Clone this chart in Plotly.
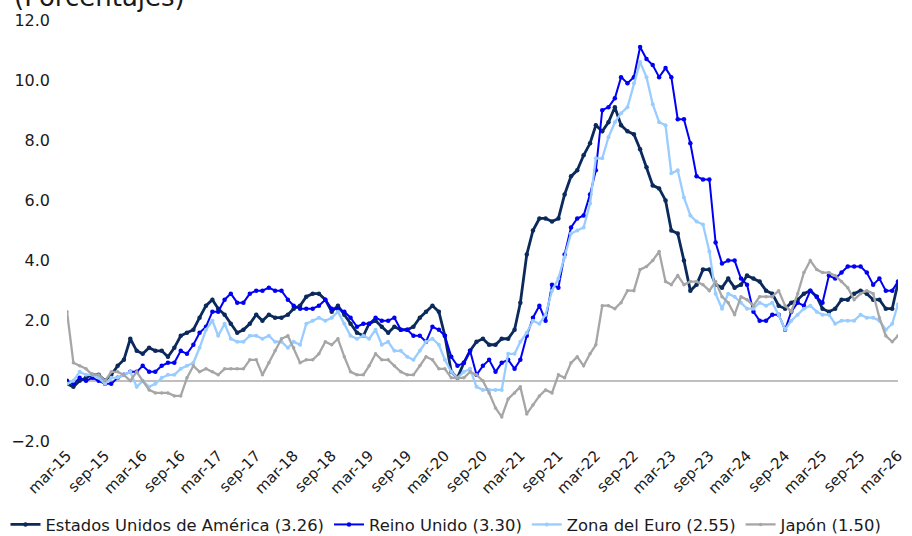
import pandas as pd
import plotly.graph_objects as go

# Monthly dates: mar-15 .. mar-26
dates = pd.date_range("2015-03-01", "2026-03-01", freq="MS")

usa = [
    -0.1, -0.2, 0.0, 0.1, 0.2, 0.2, 0.0, 0.2, 0.5, 0.7,
    1.4, 1.0, 0.9, 1.1, 1.0, 1.0, 0.8, 1.1, 1.5, 1.6, 1.7, 2.1,
    2.5, 2.7, 2.4, 2.2, 1.9, 1.6, 1.7, 1.9, 2.2, 2.0, 2.2, 2.1,
    2.1, 2.2, 2.4, 2.5, 2.8, 2.9, 2.9, 2.7, 2.3, 2.5, 2.2, 1.9,
    1.6, 1.5, 1.9, 2.0, 1.8, 1.6, 1.8, 1.7, 1.7, 1.8, 2.1, 2.3,
    2.5, 2.3, 1.5, 0.3, 0.1, 0.6, 1.0, 1.3, 1.4, 1.2, 1.2, 1.4,
    1.4, 1.7, 2.6, 4.2, 5.0, 5.4, 5.4, 5.3, 5.4, 6.2, 6.8, 7.0,
    7.5, 7.9, 8.5, 8.3, 8.6, 9.1, 8.5, 8.3, 8.2, 7.7, 7.1, 6.5,
    6.4, 6.0, 5.0, 4.9, 4.0, 3.0, 3.2, 3.7, 3.7, 3.2, 3.1, 3.4,
    3.1, 3.2, 3.5, 3.4, 3.3, 3.0, 2.9, 2.5, 2.4, 2.6, 2.7, 2.9,
    3.0, 2.8, 2.4, 2.3, 2.4, 2.7, 2.7, 2.9, 3.0, 2.9, 2.7, 2.7,
    2.4, 2.4, 3.26,
]

uk = [
    0.0, -0.1, 0.1, 0.0, 0.1, 0.0, -0.1, -0.1, 0.1, 0.2,
    0.3, 0.3, 0.5, 0.3, 0.3, 0.5, 0.6, 0.6, 1.0, 0.9, 1.2, 1.6,
    1.8, 2.3, 2.3, 2.7, 2.9, 2.6, 2.6, 2.9, 3.0, 3.0, 3.1, 3.0,
    3.0, 2.7, 2.5, 2.4, 2.4, 2.4, 2.5, 2.7, 2.4, 2.4, 2.3, 2.1,
    1.8, 1.9, 1.9, 2.1, 2.0, 2.0, 2.1, 1.7, 1.7, 1.5, 1.5, 1.3,
    1.8, 1.7, 1.5, 0.8, 0.5, 0.6, 1.0, 0.2, 0.5, 0.7, 0.3, 0.6,
    0.7, 0.4, 0.7, 1.5, 2.1, 2.5, 2.0, 3.2, 3.1, 4.2, 5.1, 5.4,
    5.5, 6.2, 7.0, 9.0, 9.1, 9.4, 10.1, 9.9, 10.1, 11.1, 10.7, 10.5,
    10.1, 10.4, 10.1, 8.7, 8.7, 7.9, 6.8, 6.7, 6.7, 4.6, 3.9, 4.0,
    4.0, 3.4, 3.2, 2.3, 2.0, 2.0, 2.2, 2.2, 1.7, 2.3, 2.6, 2.5,
    3.0, 2.8, 2.6, 3.5, 3.4, 3.6, 3.8, 3.8, 3.8, 3.6, 3.2, 3.4,
    3.0, 3.0, 3.30,
]

euro = [
    -0.1, 0.0, 0.3, 0.2, 0.2, 0.1, -0.1, 0.1, 0.1, 0.2,
    0.3, -0.2, 0.0, -0.2, -0.1, 0.1, 0.2, 0.2, 0.4, 0.5, 0.6, 1.1,
    1.7, 2.0, 1.5, 1.9, 1.4, 1.3, 1.3, 1.5, 1.5, 1.4, 1.5, 1.3,
    1.3, 1.1, 1.3, 1.2, 1.9, 2.0, 2.1, 2.0, 2.1, 2.3, 1.9, 1.5,
    1.4, 1.5, 1.4, 1.7, 1.2, 1.3, 1.0, 1.0, 0.8, 0.7, 1.0, 1.3,
    1.4, 1.2, 0.7, 0.3, 0.1, 0.3, 0.4, -0.2, -0.3, -0.3, -0.3, -0.3,
    0.9, 0.9, 1.3, 1.6, 2.0, 1.9, 2.2, 3.0, 3.4, 4.1, 4.9, 5.0,
    5.1, 5.9, 7.4, 7.4, 8.1, 8.6, 8.9, 9.1, 9.9, 10.6, 10.1, 9.2,
    8.6, 8.5, 6.9, 7.0, 6.1, 5.5, 5.3, 5.2, 4.3, 2.9, 2.4, 2.9,
    2.8, 2.6, 2.4, 2.4, 2.6, 2.5, 2.6, 2.2, 1.7, 2.0, 2.2, 2.4,
    2.5, 2.3, 2.2, 2.2, 1.9, 2.0, 2.0, 2.0, 2.2, 2.1, 2.1, 2.0,
    1.7, 1.9, 2.55,
]

japan = [
    2.3, 0.6, 0.5, 0.4, 0.2, 0.2, 0.0, 0.3, 0.3, 0.2,
    0.0, 0.3, 0.0, -0.3, -0.4, -0.4, -0.4, -0.5, -0.5, 0.1, 0.5, 0.3,
    0.4, 0.3, 0.2, 0.4, 0.4, 0.4, 0.4, 0.7, 0.7, 0.2, 0.6, 1.0,
    1.4, 1.5, 1.1, 0.6, 0.7, 0.7, 0.9, 1.3, 1.2, 1.4, 0.8, 0.3,
    0.2, 0.2, 0.5, 0.9, 0.7, 0.7, 0.5, 0.3, 0.2, 0.2, 0.5, 0.8,
    0.7, 0.4, 0.4, 0.1, 0.1, 0.1, 0.3, 0.2, 0.0, -0.4, -0.9, -1.2,
    -0.6, -0.4, -0.2, -1.1, -0.8, -0.5, -0.3, -0.4, 0.2, 0.1, 0.6, 0.8,
    0.5, 0.9, 1.2, 2.5, 2.5, 2.4, 2.6, 3.0, 3.0, 3.7, 3.8, 4.0,
    4.3, 3.3, 3.2, 3.5, 3.2, 3.3, 3.3, 3.2, 3.0, 3.3, 2.8, 2.6,
    2.2, 2.8, 2.7, 2.5, 2.8, 2.8, 2.8, 3.0, 2.5, 2.3, 2.9, 3.6,
    4.0, 3.7, 3.6, 3.6, 3.5, 3.3, 3.1, 2.7, 2.9, 3.0, 2.9, 2.1,
    1.5, 1.3, 1.50,
]

series_names = [
    "Estados Unidos de América (3.26)",
    "Reino Unido (3.30)",
    "Zona del Euro (2.55)",
    "Japón (1.50)",
]

tick_labels = [
    "mar-15", "sep-15", "mar-16", "sep-16", "mar-17", "sep-17", "mar-18",
    "sep-18", "mar-19", "sep-19", "mar-20", "sep-20", "mar-21", "sep-21",
    "mar-22", "sep-22", "mar-23", "sep-23", "mar-24", "sep-24", "mar-25",
    "sep-25", "mar-26",
]
tick_dates = list(dates[::6])

y_ticks = [-2, 0, 2, 4, 6, 8, 10, 12]

styles = [
    dict(color="#0b2a5b", width=2.8, msize=4.5),
    dict(color="#0000f5", width=2.0, msize=4.5),
    dict(color="#99ccff", width=2.3, msize=4.0),
    dict(color="#a6a6a6", width=2.3, msize=3.5),
]

FONT = "DejaVu Sans"

fig = go.Figure()
for name, vals, st in zip(series_names, [usa, uk, euro, japan], styles):
    fig.add_trace(go.Scatter(
        x=dates, y=vals, name=name, mode="lines+markers",
        line=dict(color=st["color"], width=st["width"]),
        marker=dict(color=st["color"], size=st["msize"], symbol="circle"),
    ))

fig.update_layout(
    width=912, height=536,
    margin=dict(l=67, r=14, t=20, b=95, autoexpand=False),
    paper_bgcolor="white", plot_bgcolor="white",
    font=dict(family=FONT, size=16, color="#1a1a1a"),
    showlegend=True,
    legend=dict(
        orientation="h", x=-0.074, xanchor="left", y=-0.199, yanchor="middle",
        font=dict(family=FONT, size=16.4, color="#1a1a1a"),
        bgcolor="rgba(0,0,0,0)", itemwidth=30, tracegroupgap=0,
    ),
    xaxis=dict(
        type="date", range=[dates[0], dates[-1]],
        tickvals=tick_dates, ticktext=tick_labels, tickangle=-45,
        showgrid=False, zeroline=False, showline=False, ticks="",
        ticklabelstandoff=2,
        tickfont=dict(family=FONT, size=15, color="#1a1a1a"),
    ),
    yaxis=dict(
        range=[-2, 12], tickvals=y_ticks, tickformat=".1f",
        showgrid=False, showline=False, ticks="",
        zeroline=True, zerolinecolor="#bfbfbf", zerolinewidth=1.5,
        ticklabelstandoff=16,
        tickfont=dict(family=FONT, size=16, color="#1a1a1a"),
    ),
    annotations=[dict(
        text="(Porcentajes)", xref="paper", yref="paper",
        x=-0.0662, y=1.0143, xanchor="left", yanchor="bottom",
        showarrow=False, font=dict(family=FONT, size=26, color="#1a1a1a"),
    )],
)

fig.write_html(
    "out.html",
    config={"displayModeBar": False},
    post_script="document.body.style.margin='0';document.body.style.overflow='hidden';",
)
